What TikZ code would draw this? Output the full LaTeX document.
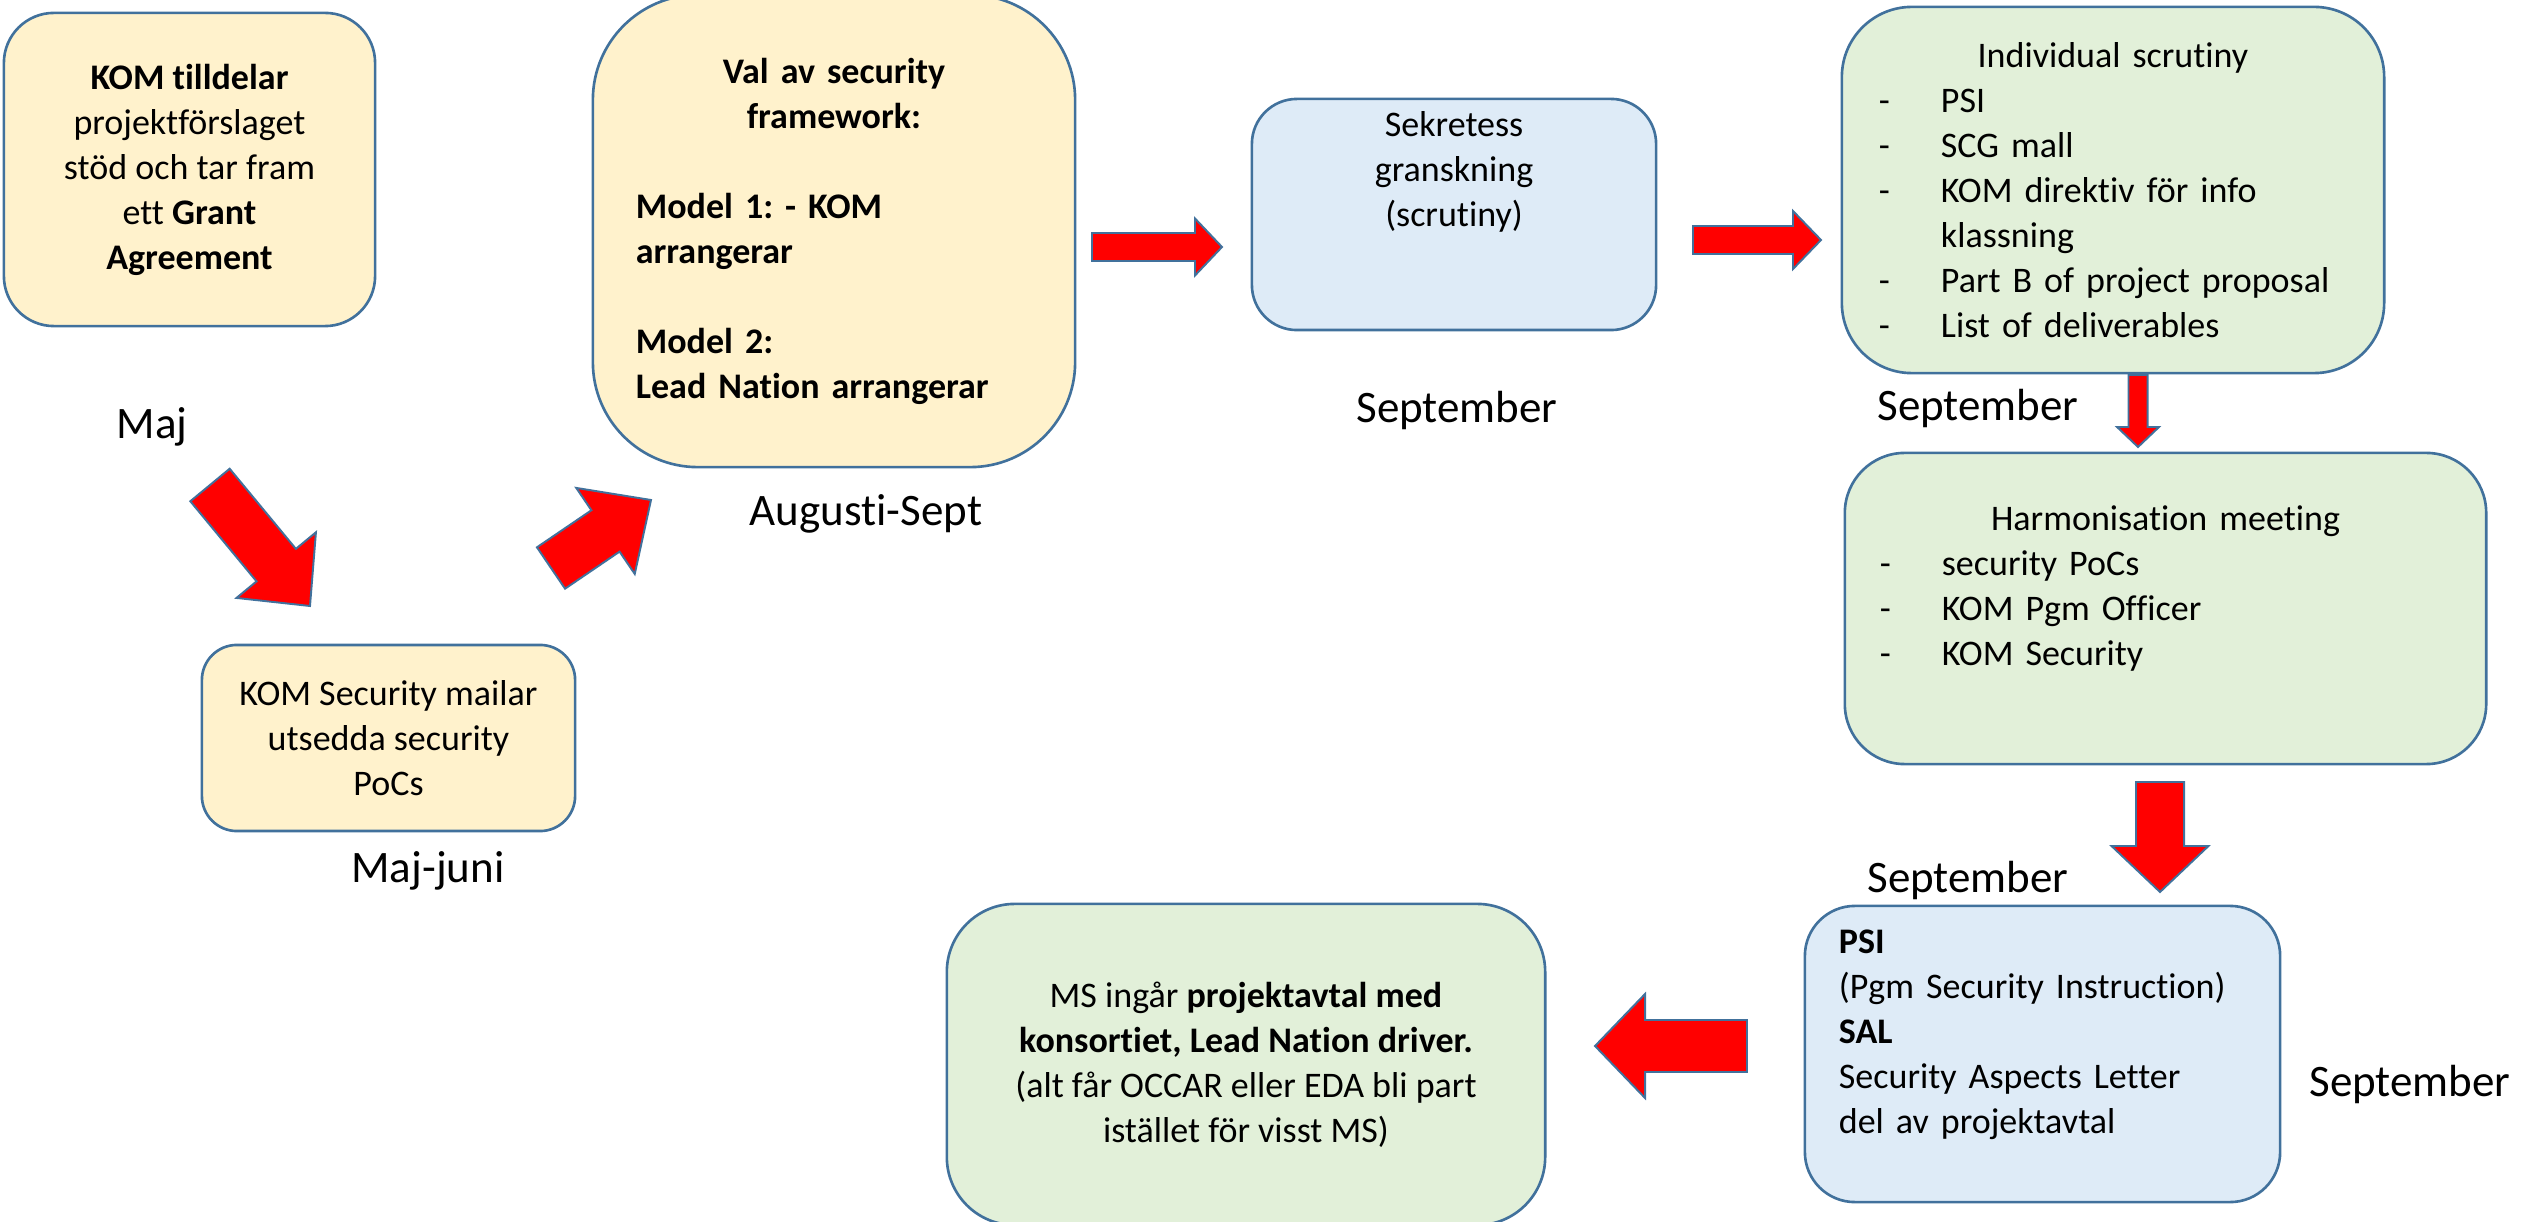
\documentclass[tikz,border=0pt]{standalone}
\usepackage{fontspec}
\setmainfont{Carlito}[Ligatures=NoCommon, RawFeature={-liga;-clig;-calt}]
\usetikzlibrary{calc}
\frenchspacing

\definecolor{boxline}{HTML}{41719C}
\definecolor{fillyellow}{HTML}{FFF2CC}
\definecolor{fillblue}{HTML}{DEEBF7}
\definecolor{fillgreen}{HTML}{E2F0D9}
\definecolor{arrowred}{HTML}{FF0000}

% dash in front of a list line
\newcommand{\listdash}{\makebox[0.62cm][l]{-}}

% block arrow: tail, tip, half shaft width, half head width, head length
\newcommand{\blockarrow}[5]{%
  \coordinate (bhead) at ($(#2)!#5!(#1)$);
  \draw[blockarr] ($(#1)!#3!90:(#2)$) -- ($(bhead)!#3!90:(#2)$) -- ($(bhead)!#4!90:(#2)$)
    -- (#2) -- ($(bhead)!#4!-90:(#2)$) -- ($(bhead)!#3!-90:(#2)$) -- ($(#1)!#3!-90:(#2)$) -- cycle;
}

\begin{document}
\begin{tikzpicture}[
    x=0.01cm, y=-0.01cm,
    box/.style={rectangle, draw=boxline, line width=0.75pt, align=center, inner sep=0pt,
                font=\fontsize{10.24}{12.8}\selectfont},
    yellowbox/.style={box, fill=fillyellow},
    bluebox/.style={box, fill=fillblue},
    greenbox/.style={box, fill=fillgreen},
    month/.style={font=\fontsize{12.8}{15.4}\selectfont, anchor=base, inner sep=0pt},
    blockarr/.style={fill=arrowred, draw=boxline, line width=0.55pt, line join=miter},
]

\useasboundingbox (0,0) rectangle (2524,1222);

% May
\node[yellowbox, minimum width=3.71cm, minimum height=3.13cm, rounded corners=0.5cm] (grant) at (189.5,169.5)
    {\textbf{KOM tilldelar}\\projektförslaget\\stöd och tar fram\\ett \textbf{Grant}\\\textbf{Agreement}};
\node[month] (maj) at (152,439) {Maj};

% May-June
\node[yellowbox, minimum width=3.73cm, minimum height=1.86cm, rounded corners=0.35cm] (pocs) at (388.5,738)
    {KOM Security mailar\\utsedda security\\PoCs};
\node[month] (majjuni) at (428,882) {Maj-juni};

% August-September
\node[yellowbox, minimum width=4.82cm, minimum height=4.72cm, rounded corners=1.05cm,
      text width=3.96cm, align=left, font=\fontsize{10.24}{12.8}\selectfont\bfseries] (framework) at (834,231)
    {{\centering Val av security\\framework:\par}\mbox{}\\Model 1: - KOM\\arrangerar\\\mbox{}\\Model 2:\\Lead Nation arrangerar};
\node[month] (augsept) at (866,526) {Augusti-Sept};

% Scrutiny
\node[bluebox, minimum width=4.04cm, minimum height=2.31cm, rounded corners=0.45cm] (sekretess) at (1454,214.5)
    {Sekretess\\granskning\\(scrutiny)\\\mbox{}\\\mbox{}};
\node[month] (sept1) at (1457,423) {September};

\node[greenbox, minimum width=5.42cm, minimum height=3.66cm, rounded corners=0.7cm,
      text width=4.68cm, align=left] (individual) at (2113,190)
    {{\centering Individual scrutiny\par}\listdash PSI\\\listdash SCG mall\\\listdash KOM direktiv för info\\
     \hspace*{0.62cm}klassning\\\listdash Part B of project proposal\\\listdash List of deliverables};
\node[month] (sept2) at (1978,421) {September};

\node[greenbox, minimum width=6.41cm, minimum height=3.11cm, rounded corners=0.6cm,
      text width=5.71cm, align=left] (harmonisation) at (2165.5,608.5)
    {{\centering Harmonisation meeting\par}\listdash security PoCs\\\listdash KOM Pgm Officer\\
     \listdash KOM Security\\\mbox{}};
\node[month] (sept3) at (1968,892) {September};

% Instructions
\node[bluebox, minimum width=4.75cm, minimum height=2.96cm, rounded corners=0.5cm,
      text width=4.07cm, align=left] (psi) at (2042.5,1054)
    {\textbf{PSI}\\(Pgm Security Instruction)\\\textbf{SAL}\\Security Aspects Letter\\del av projektavtal\\\mbox{}};
\node[month] (sept4) at (2410,1096) {September};

% Project agreement
\node[greenbox, minimum width=5.98cm, minimum height=3.21cm, rounded corners=0.68cm] (agreement) at (1246,1064.5)
    {MS ingår \textbf{projektavtal med}\\\textbf{konsortiet, Lead Nation driver.}\\(alt får OCCAR eller EDA bli part\\istället för visst MS)};

% Arrows
\coordinate (a1s) at (210,485);   \coordinate (a1e) at (310,606);
\coordinate (a2s) at (551,568);   \coordinate (a2e) at (651,500);
\coordinate (a3s) at (1092,247);  \coordinate (a3e) at (1222,247);
\coordinate (a4s) at (1693,240);  \coordinate (a4e) at (1821,240);
\coordinate (a5s) at (2138,375);  \coordinate (a5e) at (2138,447);
\coordinate (a6s) at (2160,782);  \coordinate (a6e) at (2160,892);
\coordinate (a7s) at (1747,1046); \coordinate (a7e) at (1595,1046);

\blockarrow{a1s}{a1e}{0.255cm}{0.515cm}{0.53cm}
\blockarrow{a2s}{a2e}{0.25cm}{0.52cm}{0.55cm}
\blockarrow{a3s}{a3e}{0.14cm}{0.285cm}{0.27cm}
\blockarrow{a4s}{a4e}{0.14cm}{0.29cm}{0.28cm}
\blockarrow{a5s}{a5e}{0.095cm}{0.21cm}{0.2cm}
\blockarrow{a6s}{a6e}{0.24cm}{0.485cm}{0.46cm}
\blockarrow{a7s}{a7e}{0.26cm}{0.52cm}{0.5cm}

\end{tikzpicture}
\end{document}
